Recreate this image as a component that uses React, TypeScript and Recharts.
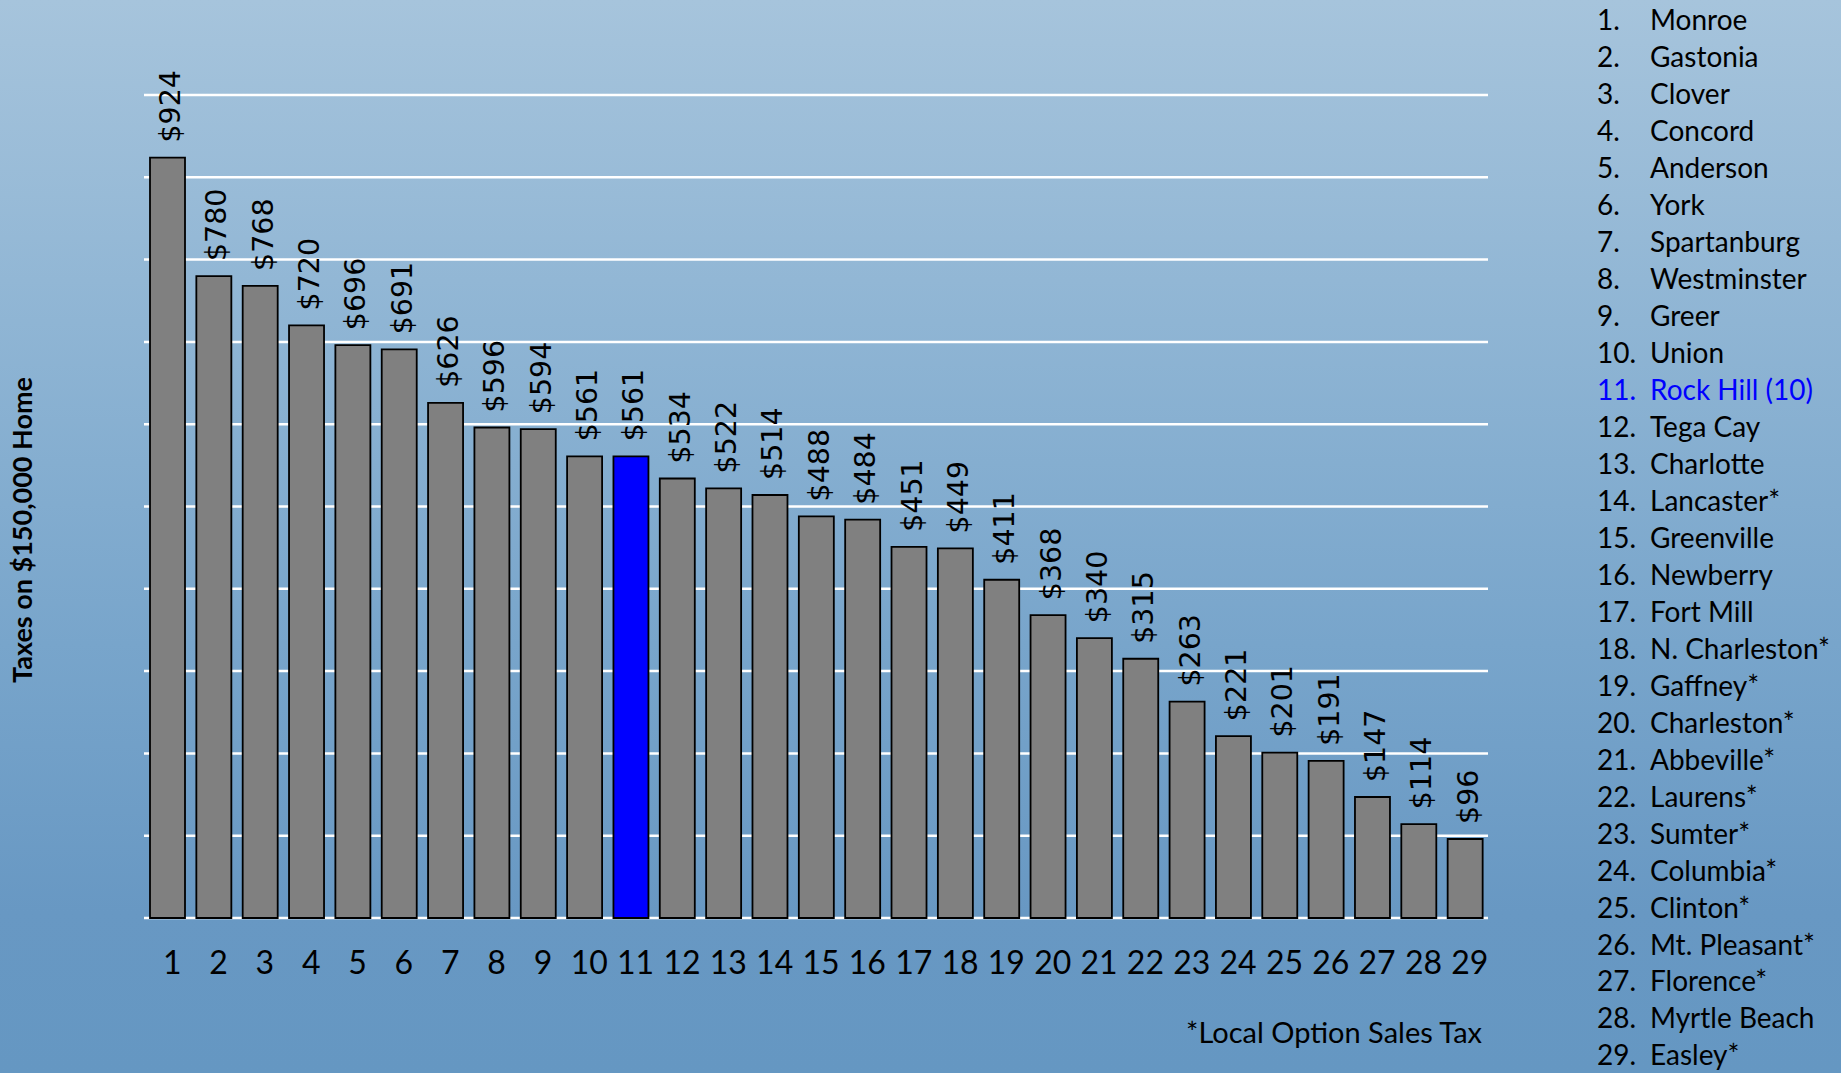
import React from 'react';
import { BarChart, Bar, XAxis, YAxis, CartesianGrid, Cell, LabelList } from 'recharts';

const RANKS = ['1', '2', '3', '4', '5', '6', '7', '8', '9', '10', '11', '12', '13', '14', '15', '16', '17', '18', '19', '20', '21', '22', '23', '24', '25', '26', '27', '28', '29'];
const TAXES = [924, 780, 768, 720, 696, 691, 626, 596, 594, 561, 561, 534, 522, 514, 488, 484, 451, 449, 411, 368, 340, 315, 263, 221, 201, 191, 147, 114, 96];
const CITIES = [
  'Monroe', 'Gastonia', 'Clover', 'Concord', 'Anderson', 'York', 'Spartanburg', 'Westminster', 'Greer', 'Union',
  'Rock Hill (10)', 'Tega Cay', 'Charlotte', 'Lancaster*', 'Greenville', 'Newberry', 'Fort Mill', 'N. Charleston*',
  'Gaffney*', 'Charleston*', 'Abbeville*', 'Laurens*', 'Sumter*', 'Columbia*', 'Clinton*', 'Mt. Pleasant*',
  'Florence*', 'Myrtle Beach', 'Easley*',
];
const Y_TICKS = [0, 100, 200, 300, 400, 500, 600, 700, 800, 900, 1000];
const HIGHLIGHT_RANK = '11';

const chartData = RANKS.map((rank, i) => ({ rank, tax: TAXES[i] }));

const W = 1841;
const H = 1073;
const FONT = 'Lato, "Open Sans", sans-serif';

const RankTick = (props: any) => {
  const { x, y, payload } = props;
  return (
    <text x={x + 5} y={y + 56} textAnchor="middle" fontFamily={FONT} fontSize={32} fill="#000">
      {payload.value}
    </text>
  );
};

const ValueLabel = (props: any) => {
  const { x, y, width, value } = props;
  const cx = x + width / 2 + 3;
  const cy = y - 15;
  return (
    <text
      x={cx}
      y={cy}
      transform={`rotate(-90, ${cx}, ${cy})`}
      textAnchor="start"
      dominantBaseline="central"
      fontFamily='"DejaVu Sans", sans-serif'
      fontSize={28.5}
      fill="#000"
    >
      {`$${value}`}
    </text>
  );
};

const App: React.FC = () => {
  return (
    <div
      style={{
        position: 'fixed',
        left: 0,
        top: 0,
        width: W,
        height: H,
        overflow: 'hidden',
        background: 'linear-gradient(to bottom, #a6c4dc 0%, #8fb5d4 30%, #78a5cb 60%, #6898c3 85%, #6597c2 100%)',
      }}
    >
      <BarChart
        width={W}
        height={H}
        data={chartData}
        margin={{ top: 95, right: 353, left: 144, bottom: 95 }}
        barSize={35}
      >
        <CartesianGrid vertical={false} stroke="#ffffff" strokeWidth={2.5} />
        <XAxis
          dataKey="rank"
          interval={0}
          axisLine={false}
          tickLine={false}
          tickSize={0}
          tickMargin={0}
          height={60}
          tick={<RankTick />}
        />
        <YAxis hide domain={[0, 1000]} ticks={Y_TICKS} />
        <Bar dataKey="tax" stroke="#000" strokeWidth={1.8} isAnimationActive={false}>
          {chartData.map((d) => (
            <Cell key={d.rank} fill={d.rank === HIGHLIGHT_RANK ? '#0000ff' : '#808080'} />
          ))}
          <LabelList dataKey="tax" content={<ValueLabel />} />
        </Bar>
      </BarChart>

      <svg width={W} height={H} style={{ position: 'absolute', left: 0, top: 0, pointerEvents: 'none' }}>
        <text
          x={21}
          y={530}
          transform="rotate(-90, 21, 530)"
          textAnchor="middle"
          dominantBaseline="central"
          fontFamily={FONT}
          fontWeight="bold"
          fontSize={27}
          fill="#000"
        >
          Taxes on $150,000 Home
        </text>
        <text x={1482} y={1043} textAnchor="end" fontFamily={FONT} fontSize={29} fill="#000">
          *Local Option Sales Tax
        </text>
        {CITIES.map((city, i) => {
          const color = RANKS[i] === HIGHLIGHT_RANK ? '#0000ff' : '#000';
          const baseline = 20 + i * 36.98 + 10;
          return (
            <g key={city} fontFamily={FONT} fontSize={28} fill={color}>
              <text x={1597} y={baseline}>{`${RANKS[i]}.`}</text>
              <text x={1650} y={baseline}>{city}</text>
            </g>
          );
        })}
      </svg>
    </div>
  );
};

export default App;
